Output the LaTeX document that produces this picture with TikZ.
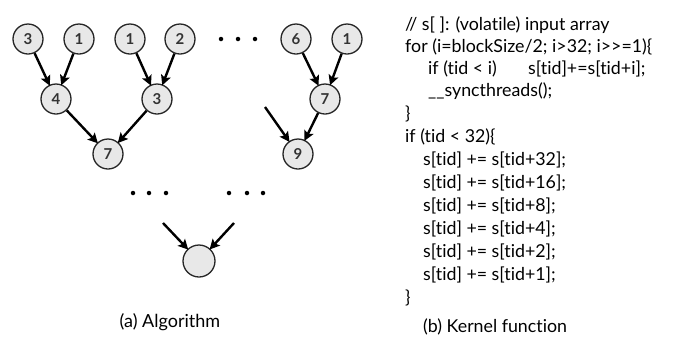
\documentclass[tikz,border=0pt]{standalone}
\usepackage{fontspec}
\setmainfont{Lato}[Ligatures={NoCommon}]
\usetikzlibrary{arrows.meta}
\begin{document}
\begin{tikzpicture}[x=1pt,y=-1pt,
  nd/.style={circle,draw=black!85,line width=1.3pt,inner sep=0pt,minimum size=30pt,
    fill=black!9,text=black!80,font=\bfseries\fontsize{15}{15}\selectfont},
  ar/.style={line width=2.4pt,-{Stealth[length=10pt,width=10pt,inset=2pt]},shorten >=-1pt},
  dot/.style={circle,fill=black,inner sep=0pt,minimum size=4.5pt},
  code/.style={anchor=west,inner sep=0pt,font=\fontsize{17.8}{20}\selectfont}]
\useasboundingbox (0,0) rectangle (678,341);
% leaves
\node[nd] (a1) at (28,39) {3};
\node[nd] (a2) at (79,39) {1};
\node[nd] (a3) at (130,39) {1};
\node[nd] (a4) at (180,39) {2};
\node[nd] (a5) at (296,39) {6};
\node[nd] (a6) at (347,39) {1};
% level 2
\node[nd] (b1) at (56,99) {4};
\node[nd] (b2) at (157,99) {3};
\node[nd] (b3) at (325,99) {7};
% level 3
\node[nd] (c1) at (108,154) {7};
\node[nd] (c2) at (298,154) {9};
% root
\node[nd,minimum size=32pt] (r) at (199,261) {};
% dots
\foreach \x [count=\i] in {221,238,255} \node[dot] (d\i) at (\x,39) {};
\foreach \x [count=\i] in {133,149,166,229,247,263} \node[dot] (e\i) at (\x,193) {};
\coordinate (s9) at (265,107);
\coordinate (sl) at (163,223);
\coordinate (sr) at (234,223);
% arrows
\draw[ar] (a1) -- (b1);
\draw[ar] (a2) -- (b1);
\draw[ar] (a3) -- (b2);
\draw[ar] (a4) -- (b2);
\draw[ar] (a5) -- (b3);
\draw[ar] (a6) -- (b3);
\draw[ar] (b1) -- (c1);
\draw[ar] (b2) -- (c1);
\draw[ar] (b3) -- (c2);
\draw[ar] (s9) -- (c2);
\draw[ar] (sl) -- (r);
\draw[ar] (sr) -- (r);
\node[font=\fontsize{18}{20}\selectfont] (capa) at (170,322) {(a) Algorithm};
% code
\node[code] (l1) at (405,25) {// s[ ]: (volatile) input array};
\node[code] (l2) at (405,47) {for (i=blockSize/2; i>32; i>{}>=1)\{};
\node[code] (l3) at (428,69) {if (tid < i)};
\node[code] (l3b) at (528,69) {s[tid]+=s[tid+i];};
\node[code] (l4) at (428,91) {\_\_syncthreads();};
\node[code] (l5) at (405,114) {\}};
\node[code] (l6) at (405,137) {if (tid < 32)\{};
\node[code] (l7) at (423,160) {s[tid] += s[tid+32];};
\node[code] (l8) at (423,183) {s[tid] += s[tid+16];};
\node[code] (l9) at (423,206) {s[tid] += s[tid+8];};
\node[code] (l10) at (423,229) {s[tid] += s[tid+4];};
\node[code] (l11) at (423,252) {s[tid] += s[tid+2];};
\node[code] (l12) at (423,275) {s[tid] += s[tid+1];};
\node[code] (l13) at (405,298) {\}};
\node[code] (capb) at (423,327) {(b) Kernel function};
\end{tikzpicture}
\end{document}
